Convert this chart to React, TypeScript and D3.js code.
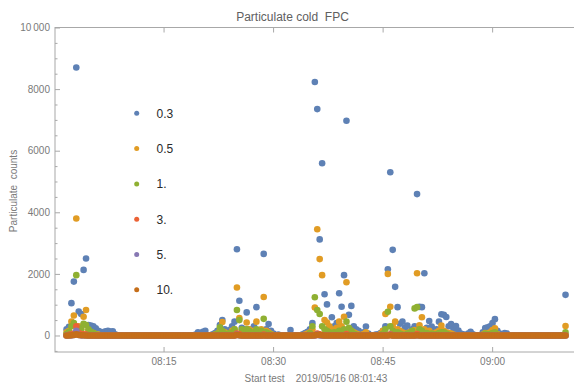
import React, { useEffect, useRef } from 'react';
import * as d3 from 'd3';

// FPC particle counter log: one reading every 20 s from the start of the test
const START = new Date(2019, 4, 16, 8, 1, 43);
const STEP_S = 20;

const sizes = ['0.3', '0.5', '1.', '3.', '5.', '10.'];
const colors = ['#5e81b5', '#e19c24', '#8fb032', '#eb6235', '#8778b3', '#c56e1a'];

// counts per reading, 10 readings (200 s) per row
const pc03 = [
  200, 280, 1050, 1750, 8700, 780, 700, 2130, 2500, 340,
  320, 300, 230, 150, 120, 60, 140, 150, 130, 140,
  40, 0, 0, 0, 0, 0, 0, 0, 0, 0,
  0, 0, 0, 0, 0, 0, 0, 0, 0, 0,
  0, 0, 0, 0, 0, 0, 0, 0, 0, 0,
  0, 0, 0, 30, 100, 0, 120, 150, 0, 0,
  40, 80, 150, 340, 500, 200, 120, 180, 300, 450,
  2800, 1130, 250, 200, 750, 200, 150, 300, 920, 180,
  120, 2650, 200, 370, 150, 60, 0, 30, 0, 0,
  0, 0, 180, 0, 0, 0, 0, 40, 80, 120,
  200, 400, 8230, 7350, 3120, 5590, 1340, 1010, 250, 590,
  300, 400, 1370, 935, 1960, 6970, 670, 960, 300, 200,
  150, 60, 100, 290, 60, 0, 0, 30, 40, 80,
  150, 300, 2150, 5300, 2780, 1580, 920, 380, 450, 250,
  320, 120, 200, 300, 4590, 930, 920, 2020, 250, 470,
  290, 150, 200, 450, 690, 670, 600, 300, 370, 200,
  310, 160, 60, 40, 0, 60, 120, 40, 0, 0,
  0, 100, 240, 270, 300, 400, 530, 150, 60, 0,
  80, 60, 0, 0, 0, 0, 0, 0, 0, 0,
  0, 0, 0, 0, 0, 0, 0, 0, 0, 0,
  0, 0, 0, 0, 0, 1320,
];

const pc05 = [
  100, 150, 450, 650, 3800, 300, 200, 610, 830, 150,
  100, 80, 50, 30, 0, 0, 0, 0, 0, 0,
  0, 0, 0, 0, 0, 0, 0, 0, 0, 0,
  0, 0, 0, 0, 0, 0, 0, 0, 0, 0,
  0, 0, 0, 0, 0, 0, 0, 0, 0, 0,
  0, 0, 0, 0, 0, 0, 0, 0, 0, 0,
  0, 30, 60, 150, 440, 100, 50, 80, 150, 200,
  1560, 570, 150, 100, 420, 200, 100, 150, 450, 150,
  200, 1250, 150, 100, 50, 0, 0, 0, 0, 0,
  0, 0, 0, 0, 0, 0, 0, 0, 30, 60,
  100, 200, 910, 3450, 2480, 1960, 500, 420, 300, 200,
  150, 250, 450, 300, 610, 1730, 200, 150, 100, 60,
  30, 0, 50, 100, 0, 0, 0, 0, 0, 50,
  150, 700, 2000, 930, 300, 450, 200, 150, 100, 60,
  80, 100, 60, 180, 2020, 330, 590, 200, 100, 150,
  80, 50, 100, 150, 320, 150, 100, 80, 60, 30,
  0, 0, 0, 0, 0, 0, 0, 0, 0, 0,
  0, 30, 80, 60, 100, 180, 230, 50, 0, 0,
  0, 0, 0, 0, 0, 0, 0, 0, 0, 0,
  0, 0, 0, 0, 0, 0, 0, 0, 0, 0,
  0, 0, 0, 0, 0, 310,
];

const pc1 = [
  50, 120, 300, 400, 1960, 250, 200, 380, 340, 200,
  120, 80, 40, 0, 0, 0, 0, 0, 0, 0,
  0, 0, 0, 0, 0, 0, 0, 0, 0, 0,
  0, 0, 0, 0, 0, 0, 0, 0, 0, 0,
  0, 0, 0, 0, 0, 0, 0, 0, 0, 0,
  0, 0, 0, 0, 0, 0, 0, 0, 0, 0,
  0, 30, 60, 270, 150, 60, 40, 80, 100, 200,
  830, 500, 200, 150, 200, 150, 80, 100, 200, 100,
  150, 540, 100, 60, 30, 0, 0, 0, 0, 0,
  0, 0, 0, 0, 0, 0, 0, 0, 0, 0,
  80, 300, 1240, 830, 700, 300, 200, 150, 100, 60,
  100, 80, 150, 100, 200, 450, 250, 150, 60, 30,
  0, 0, 0, 0, 0, 0, 0, 0, 0, 0,
  60, 200, 770, 300, 150, 80, 100, 60, 30, 0,
  60, 80, 150, 880, 920, 200, 150, 60, 80, 50,
  60, 30, 40, 80, 100, 100, 60, 30, 0, 0,
  0, 0, 0, 0, 0, 0, 0, 0, 0, 0,
  0, 0, 60, 40, 50, 80, 100, 30, 0, 0,
  0, 0, 0, 0, 0, 0, 0, 0, 0, 0,
  0, 0, 0, 0, 0, 0, 0, 0, 0, 0,
  0, 0, 0, 0, 0, 100,
];

const pc3 = [
  0, 20, 40, 60, 300, 80, 50, 40, 30, 0,
  0, 0, 0, 0, 0, 0, 0, 0, 0, 0,
  0, 0, 0, 0, 0, 0, 0, 0, 0, 0,
  0, 0, 0, 0, 0, 0, 0, 0, 0, 0,
  0, 0, 0, 0, 0, 0, 0, 0, 0, 0,
  0, 0, 0, 0, 0, 0, 0, 0, 0, 0,
  0, 0, 0, 0, 0, 0, 0, 0, 0, 0,
  60, 40, 0, 0, 0, 0, 0, 0, 0, 0,
  0, 30, 0, 0, 0, 0, 0, 0, 0, 0,
  0, 0, 0, 0, 0, 0, 0, 0, 0, 0,
  0, 0, 0, 60, 40, 0, 0, 0, 0, 0,
  0, 0, 0, 0, 0, 50, 0, 0, 0, 0,
  0, 0, 0, 0, 0, 0, 0, 0, 0, 0,
  0, 0, 0, 40, 0, 0, 0, 0, 0, 0,
  0, 0, 0, 0, 50, 0, 0, 0, 0, 0,
  0, 0, 0, 0, 0, 0, 0, 0, 0, 0,
  0, 0, 0, 0, 0, 0, 0, 0, 0, 0,
  0, 0, 0, 0, 0, 0, 0, 0, 0, 0,
  0, 0, 0, 0, 0, 0, 0, 0, 0, 0,
  0, 0, 0, 0, 0, 0, 0, 0, 0, 0,
  0, 0, 0, 0, 0, 0,
];

const pc5 = [
  0, 0, 0, 20, 150, 20, 0, 0, 0, 0,
  0, 0, 0, 0, 0, 0, 0, 0, 0, 0,
  0, 0, 0, 0, 0, 0, 0, 0, 0, 0,
  0, 0, 0, 0, 0, 0, 0, 0, 0, 0,
  0, 0, 0, 0, 0, 0, 0, 0, 0, 0,
  0, 0, 0, 0, 0, 0, 0, 0, 0, 0,
  0, 0, 0, 0, 0, 0, 0, 0, 0, 0,
  30, 0, 0, 0, 0, 0, 0, 0, 0, 0,
  0, 0, 0, 0, 0, 0, 0, 0, 0, 0,
  0, 0, 0, 0, 0, 0, 0, 0, 0, 0,
  0, 0, 0, 30, 0, 0, 0, 0, 0, 0,
  0, 0, 0, 0, 0, 0, 0, 0, 0, 0,
  0, 0, 0, 0, 0, 0, 0, 0, 0, 0,
  0, 0, 0, 20, 0, 0, 0, 0, 0, 0,
  0, 0, 0, 0, 0, 0, 0, 0, 0, 0,
  0, 0, 0, 0, 0, 0, 0, 0, 0, 0,
  0, 0, 0, 0, 0, 0, 0, 0, 0, 0,
  0, 0, 0, 0, 0, 0, 0, 0, 0, 0,
  0, 0, 0, 0, 0, 0, 0, 0, 0, 0,
  0, 0, 0, 0, 0, 0, 0, 0, 0, 0,
  0, 0, 0, 0, 0, 0,
];

const pc10 = [
  0, 0, 10, 20, 40, 20, 10, 10, 0, 0,
  0, 0, 0, 0, 0, 0, 0, 0, 0, 0,
  0, 0, 0, 0, 0, 0, 0, 0, 0, 0,
  0, 0, 0, 0, 0, 0, 0, 0, 0, 0,
  0, 0, 0, 0, 0, 0, 0, 0, 0, 0,
  0, 0, 0, 0, 0, 0, 0, 0, 0, 0,
  0, 0, 0, 0, 0, 0, 0, 0, 0, 0,
  20, 10, 0, 0, 0, 0, 0, 0, 0, 0,
  0, 0, 0, 0, 0, 0, 0, 0, 0, 0,
  0, 0, 0, 0, 0, 0, 0, 0, 0, 0,
  0, 0, 10, 20, 20, 10, 0, 0, 0, 0,
  0, 0, 0, 0, 0, 0, 0, 0, 0, 0,
  0, 0, 0, 0, 0, 0, 0, 0, 0, 0,
  0, 0, 0, 10, 0, 0, 0, 0, 0, 0,
  0, 0, 0, 0, 10, 0, 0, 0, 0, 0,
  0, 0, 0, 0, 0, 0, 0, 0, 0, 0,
  0, 0, 0, 0, 0, 0, 0, 0, 0, 0,
  0, 0, 0, 0, 0, 0, 0, 0, 0, 0,
  0, 0, 0, 0, 0, 0, 0, 0, 0, 0,
  0, 0, 0, 0, 0, 0, 0, 0, 0, 0,
  0, 0, 0, 0, 0, 0,
];

const series = [pc03, pc05, pc1, pc3, pc5, pc10];

const yTicks = [0, 2000, 4000, 6000, 8000, 10000];
const yMinorTicks = [-500, 500, 1000, 1500, 2500, 3000, 3500, 4500, 5000, 5500, 6500, 7000, 7500, 8500, 9000, 9500];
const xTicks = ['08:15', '08:30', '08:45', '09:00'];

const FONT = "'Liberation Sans', Arial, sans-serif";

const App = () => {
  const svgRef = useRef<SVGSVGElement>(null);

  useEffect(() => {
    const width = 574;
    const height = 383;
    const left = 55;
    const right = 575.5;
    const top = 27.5;
    const bottom = 352;

    const svg = d3.select(svgRef.current).attr('width', width).attr('height', height);
    svg.selectAll('*').remove();

    const x = d3
      .scaleTime()
      .domain([new Date(2019, 4, 16, 8, 0, 8), new Date(2019, 4, 16, 9, 11, 25)])
      .range([left, right]);
    const y = d3.scaleLinear().domain([-536, 10000]).range([bottom, top]);

    const parseHM = d3.timeParse('%Y-%m-%d %H:%M');
    const xTickDates = xTicks.map((t) => parseHM(`2019-05-16 ${t}`) as Date);
    const fmt = d3.timeFormat('%H:%M');

    // points, series in order so the 10. series ends up on top
    series.forEach((vals, s) => {
      svg
        .append('g')
        .selectAll('circle')
        .data(vals)
        .enter()
        .append('circle')
        .attr('cx', (d, i) => x(d3.timeSecond.offset(START, i * STEP_S)))
        .attr('cy', (d) => y(d))
        .attr('r', 3.3)
        .attr('fill', colors[s]);
    });

    // frame
    svg
      .append('rect')
      .attr('x', left)
      .attr('y', top)
      .attr('width', right - left)
      .attr('height', bottom - top)
      .attr('fill', 'none')
      .attr('stroke', '#a8a8a8');

    const styleAxis = (g) => {
      g.select('.domain').remove();
      g.attr('color', '#a8a8a8');
      g.selectAll('text').attr('fill', '#7a7a7a').style('font-family', FONT).style('font-size', '10px');
    };

    svg
      .append('g')
      .attr('transform', `translate(${left},0)`)
      .call(d3.axisLeft(y).tickValues(yMinorTicks).tickSize(-2.5).tickFormat(() => ''))
      .call(styleAxis);
    svg
      .append('g')
      .attr('transform', `translate(${left},0)`)
      .call(
        d3
          .axisLeft(y)
          .tickValues(yTicks)
          .tickSize(-5)
          .tickPadding(5)
          .tickFormat((d) => (d >= 10000 ? d3.format(',')(d).replace(',', '\u2009') : String(d)))
      )
      .call(styleAxis);

    svg
      .append('g')
      .attr('transform', `translate(0,${bottom})`)
      .call(d3.axisBottom(x).tickValues(xTickDates).tickSize(-5).tickPadding(5.4).tickFormat((d) => fmt(d)))
      .call(styleAxis);
    svg
      .append('g')
      .attr('transform', `translate(0,${top})`)
      .call(d3.axisTop(x).tickValues(xTickDates).tickSize(-5).tickFormat(() => ''))
      .call(styleAxis);

    // titles
    svg
      .append('text')
      .attr('x', 292.5)
      .attr('y', 20.5)
      .attr('text-anchor', 'middle')
      .style('font-family', FONT)
      .style('font-size', '12px')
      .style('white-space', 'pre')
      .attr('fill', '#606060')
      .text('Particulate cold  FPC');

    svg
      .append('text')
      .attr('transform', 'translate(16.5,191) rotate(-90)')
      .attr('text-anchor', 'middle')
      .style('font-family', FONT)
      .style('font-size', '10px')
      .style('white-space', 'pre')
      .attr('fill', '#7a7a7a')
      .text('Particulate  counts');

    svg
      .append('text')
      .attr('x', 316)
      .attr('y', 381.5)
      .attr('text-anchor', 'middle')
      .style('font-family', FONT)
      .style('font-size', '10px')
      .style('white-space', 'pre')
      .attr('fill', '#7a7a7a')
      .text('Start test    2019/05/16 08:01:43');

    // legend
    const legend = svg.append('g').attr('transform', 'translate(136.7,113.3)');
    sizes.forEach((label, k) => {
      const row = legend.append('g').attr('transform', `translate(0,${k * 35.3})`);
      row.append('circle').attr('r', 2.5).attr('fill', colors[k]);
      row
        .append('text')
        .attr('x', 19.8)
        .attr('y', 4.3)
        .style('font-family', FONT)
        .style('font-size', '12px')
        .attr('fill', '#2a2a2a')
        .text(label);
    });
  }, []);

  return <svg ref={svgRef} style={{ position: 'absolute', left: 0, top: 0, display: 'block' }}></svg>;
};

export default App;
